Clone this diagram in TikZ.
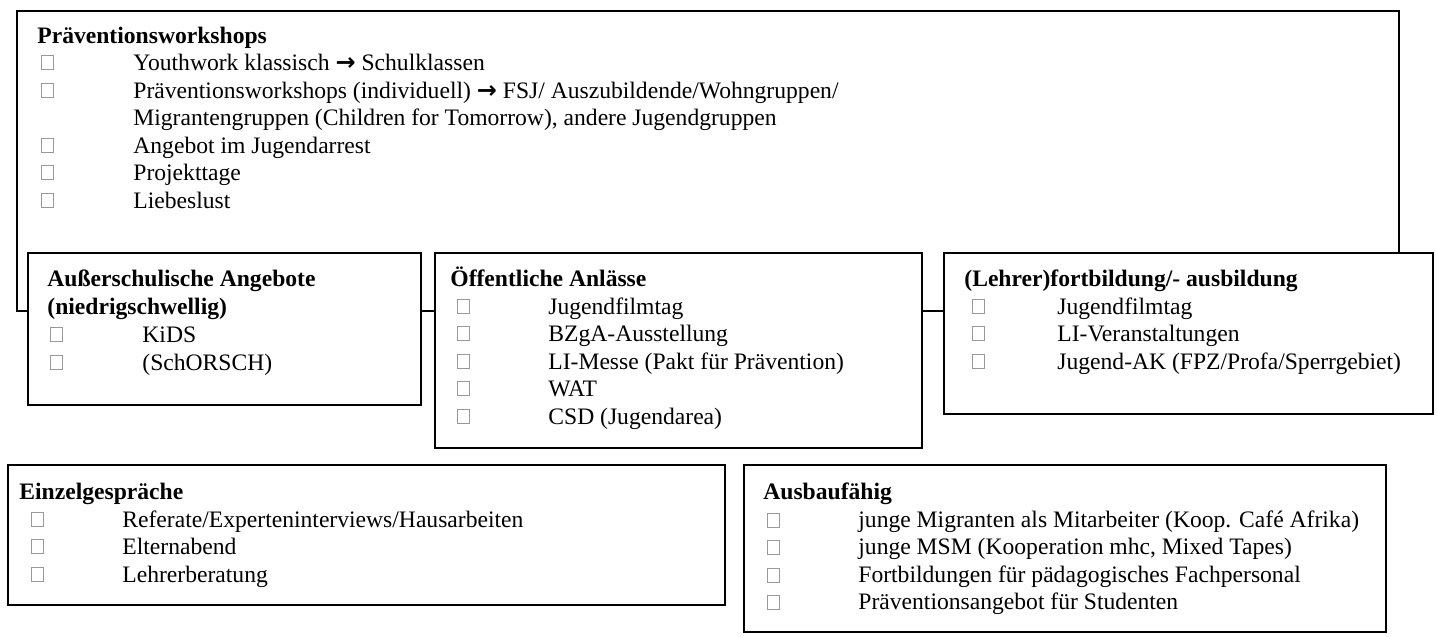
\documentclass[tikz,border=0pt]{standalone}
\usepackage{fontspec}
\setmainfont{Liberation Serif}
\newfontfamily\arrowfont{DejaVu Sans}
\newcommand\rarr{{\arrowfont\bfseries\fontsize{12}{13}\selectfont →}}
\newcommand\cbox[2]{\draw[chk] (#1,#2-7) rectangle ++(12,14);}
\tikzset{
  box/.style={draw=black, line width=1pt, fill=white, inner sep=0pt, anchor=north west},
  ttl/.style={anchor=base west, inner sep=0pt, font=\fontsize{11.8}{14}\selectfont\bfseries},
  itm/.style={anchor=base west, inner sep=0pt, font=\fontsize{11.8}{14}\selectfont},
  chk/.style={draw=black!40, line width=0.5pt},
}
\begin{document}
\begin{tikzpicture}[x=0.5pt,y=-0.5pt]
\useasboundingbox (0,0) rectangle (1437,637);
\fill[white] (0,0) rectangle (1437,637);

% top box
\node[box, minimum width=691pt, minimum height=150pt] (top) at (16,10) {};
\node[ttl] (t0) at (37,43) {Präventionsworkshops};
\cbox{41}{62}\node[itm] (t1) at (133,70) {Youthwork klassisch \rarr\ Schulklassen};
\cbox{41}{90}\node[itm] (t2) at (133,98) {Präventionsworkshops (individuell) \rarr\ FSJ/ Auszubildende/Wohngruppen/};
\node[itm] (t3) at (133,125) {Migrantengruppen (Children for Tomorrow), andere Jugendgruppen};
\cbox{41}{145}\node[itm] (t4) at (133,153) {Angebot im Jugendarrest};
\cbox{41}{172}\node[itm] (t5) at (133,180) {Projekttage};
\cbox{41}{200}\node[itm] (t6) at (133,208) {Liebeslust};

% box 2
\node[box, minimum width=196.5pt, minimum height=76pt] (aus) at (27,252) {};
\node[ttl] (a0) at (47,286) {Außerschulische Angebote};
\node[ttl] (a1) at (47,314) {(niedrigschwellig)};
\cbox{50}{334}\node[itm] (a2) at (142,342) {KiDS};
\cbox{50}{362}\node[itm] (a3) at (142,370) {(SchORSCH)};

% box 3
\node[box, minimum width=243.5pt, minimum height=97.5pt] (oef) at (434,252) {};
\node[ttl] (o0) at (450,286) {Öffentliche Anlässe};
\cbox{457}{306}\node[itm] (o1) at (548,314) {Jugendfilmtag};
\cbox{457}{333.5}\node[itm] (o2) at (548,341.5) {BZgA-Ausstellung};
\cbox{457}{361}\node[itm] (o3) at (548,369) {LI-Messe (Pakt für Prävention)};
\cbox{457}{388.5}\node[itm] (o4) at (548,396.5) {WAT};
\cbox{457}{416}\node[itm] (o5) at (548,424) {CSD (Jugendarea)};

% box 4
\node[box, minimum width=244.5pt, minimum height=80.5pt] (lehr) at (943,252) {};
\node[ttl] (l0) at (964,286) {(Lehrer)fortbildung/- ausbildung};
\cbox{972}{306}\node[itm] (l1) at (1057,314) {Jugendfilmtag};
\cbox{972}{333.5}\node[itm] (l2) at (1057,341.5) {LI-Veranstaltungen};
\cbox{972}{361}\node[itm] (l3) at (1057,369) {Jugend-AK (FPZ/Profa/Sperrgebiet)};

% box 5
\node[box, minimum width=358.5pt, minimum height=70pt] (einz) at (7,464) {};
\node[ttl] (e0) at (19,499) {Einzelgespräche};
\cbox{31}{519}\node[itm] (e1) at (122,527) {Referate/Experteninterviews/Hausarbeiten};
\cbox{31}{546.5}\node[itm] (e2) at (122,554.5) {Elternabend};
\cbox{31}{574}\node[itm] (e3) at (122,582) {Lehrerberatung};

% box 6
\node[box, minimum width=321pt, minimum height=83.5pt] (ausb) at (743,464) {};
\node[ttl] (f0) at (763,499) {Ausbaufähig};
\cbox{767}{520}\node[itm] (f1) at (858,527) {junge Migranten als Mitarbeiter (Koop. Café Afrika)};
\cbox{767}{547.5}\node[itm] (f2) at (858,554.5) {junge MSM (Kooperation mhc, Mixed Tapes)};
\cbox{767}{575}\node[itm] (f3) at (858,582) {Fortbildungen für pädagogisches Fachpersonal};
\cbox{767}{602.5}\node[itm] (f4) at (858,609.5) {Präventionsangebot für Studenten};
\end{tikzpicture}
\end{document}
